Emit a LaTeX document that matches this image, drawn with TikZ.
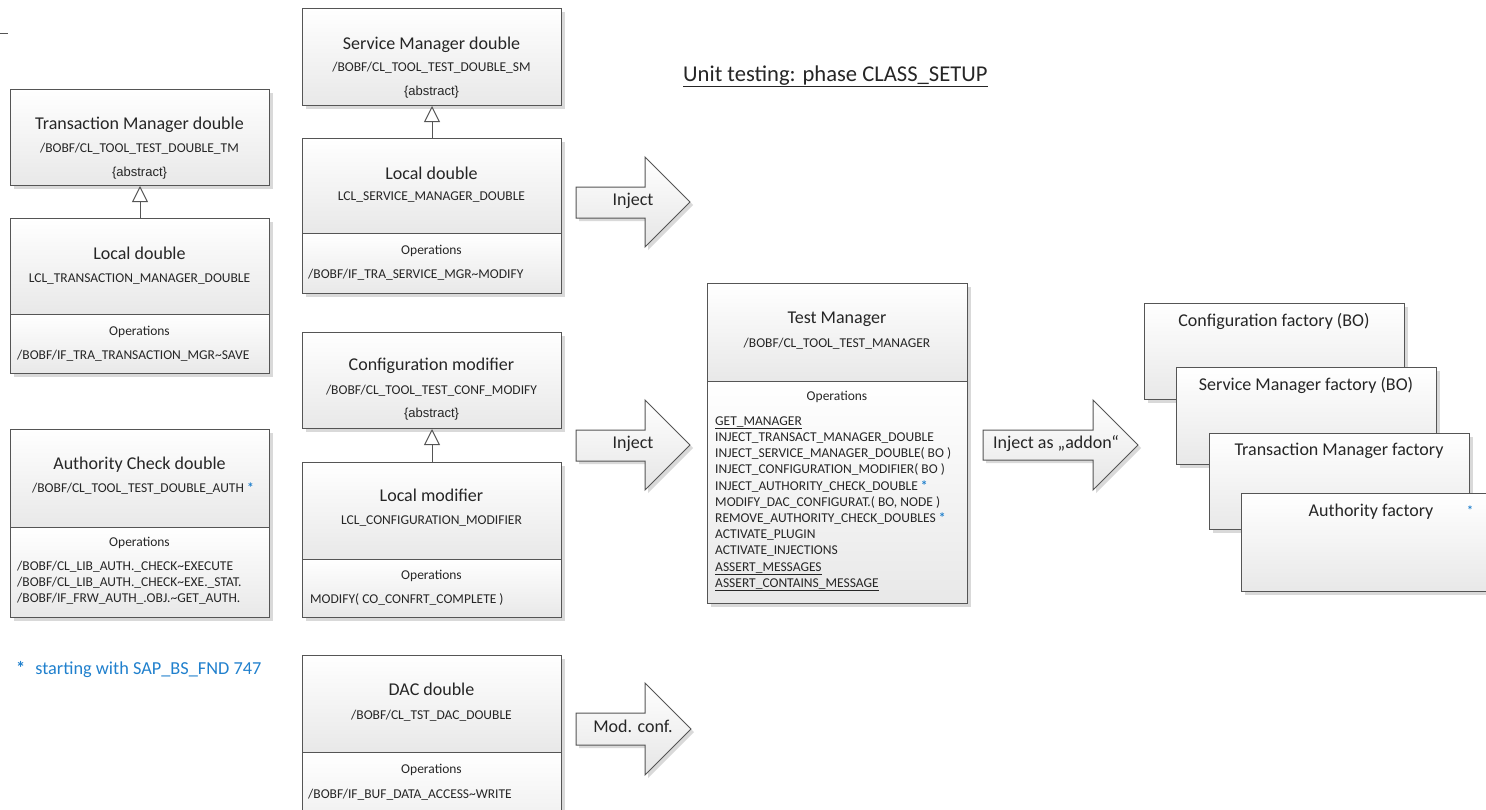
\documentclass[tikz,border=0pt]{standalone}
\usepackage{fontspec}
\setmainfont{Carlito}
\newfontfamily\arialfont{Liberation Sans}
\usetikzlibrary{arrows.meta,shadows}
\definecolor{edge}{RGB}{85,85,85}
\definecolor{ink}{RGB}{38,38,38}
\definecolor{starblue}{RGB}{32,128,205}
\tikzset{
  softshadow/.style={drop shadow={shadow xshift=3pt, shadow yshift=-3pt, fill=black!15, opacity=1}},
  part/.style={draw=edge, line width=1pt, top color=white, bottom color=black!9,
    inner sep=0pt, anchor=north west, minimum width=259pt, softshadow},
  txt/.style={inner sep=0pt, text=ink, text height=0.64em, text depth=0pt},
  big/.style={txt, font=\fontsize{18}{21}\selectfont},
  small/.style={txt, font=\fontsize{13.5}{16}\selectfont},
  abs/.style={txt, font=\arialfont\fontsize{13}{15}\selectfont},
  op/.style={small, anchor=west},
  inherit/.style={draw=edge, line width=1pt,
    -{Triangle[open, length=16pt, width=16pt, line width=1pt]}},
  block/.style={draw=edge, line width=1pt, line join=miter,
    top color=white, bottom color=black!10, softshadow},
}
\newcommand{\bluestar}{\textcolor{starblue}{\textbf{*}}}
\begin{document}
\begin{tikzpicture}[x=1pt, y=-1pt]
\useasboundingbox (0,0) rectangle (1486,809);
\clip (0,0) rectangle (1486,809);

% stray rule at the upper left
\coordinate (rs) at (0,33);
\coordinate (re) at (8,33);
\draw[edge, line width=1pt] (rs) -- (re);

% title
\node[txt, font=\fontsize{22.6}{26}\selectfont, anchor=west] (title) at (683,78)
  {\underline{Unit testing: phase CLASS\_SETUP}};

% ---------- transaction manager double ----------
\node[part, minimum height=96pt] (tmh) at (10,89) {};
\node[big]   (tmh-a) at (139.5,126) {Transaction Manager double};
\node[small] (tmh-b) at (139.5,149) {/BOBF/CL\_TOOL\_TEST\_DOUBLE\_TM};
\node[abs]   (tmh-c) at (139.5,173) {\{abstract\}};

\node[part, minimum height=96pt] (tlh) at (10,218) {};
\node[big]   (tlh-a) at (139.5,256) {Local double};
\node[small] (tlh-b) at (139.5,279) {LCL\_TRANSACTION\_MANAGER\_DOUBLE};
\node[part, minimum height=59pt] (tlo) at (10,314) {};
\node[small] (tlo-a) at (139.5,332) {Operations};
\node[op]    (tlo-b) at (17,356) {/BOBF/IF\_TRA\_TRANSACTION\_MGR\textasciitilde SAVE};
\draw[inherit] (tlh.north) -- (tmh.south);

% ---------- authority check double ----------
\node[part, minimum height=98pt] (ach) at (10,429) {};
\node[big]   (ach-a) at (139.5,466) {Authority Check double};
\node[small] (ach-b) at (143,489) {/BOBF/CL\_TOOL\_TEST\_DOUBLE\_AUTH \bluestar};
\node[part, minimum height=90pt] (aco) at (10,527) {};
\node[small] (aco-a) at (139.5,543) {Operations};
\node[op]    (aco-b) at (17,567) {/BOBF/CL\_LIB\_AUTH.\_CHECK\textasciitilde EXECUTE};
\node[op]    (aco-c) at (17,583) {/BOBF/CL\_LIB\_AUTH.\_CHECK\textasciitilde EXE.\_STAT.};
\node[op]    (aco-d) at (17,599) {/BOBF/IF\_FRW\_AUTH\_.OBJ.\textasciitilde GET\_AUTH.};

\node[txt, font=\fontsize{18.3}{21}\selectfont, text=starblue, anchor=west] (note) at (16,671)
  {\textbf{*}\hspace{10pt}starting with SAP\_BS\_FND 747};

% ---------- service manager double ----------
\node[part, minimum height=97pt] (smh) at (302,8) {};
\node[big]   (smh-a) at (431.5,46) {Service Manager double};
\node[small] (smh-b) at (431.5,68) {/BOBF/CL\_TOOL\_TEST\_DOUBLE\_SM};
\node[abs]   (smh-c) at (431.5,92) {\{abstract\}};

\node[part, minimum height=95pt] (slh) at (302,138) {};
\node[big]   (slh-a) at (431.5,176) {Local double};
\node[small] (slh-b) at (431.5,197) {LCL\_SERVICE\_MANAGER\_DOUBLE};
\node[part, minimum height=60pt] (slo) at (302,233) {};
\node[small] (slo-a) at (431.5,251) {Operations};
\node[op]    (slo-b) at (308,275) {/BOBF/IF\_TRA\_SERVICE\_MGR\textasciitilde MODIFY};
\draw[inherit] (slh.north) -- (smh.south);

% ---------- configuration modifier ----------
\node[part, minimum height=96pt] (cmh) at (302,332) {};
\node[big]   (cmh-a) at (431.5,367) {Configuration modifier};
\node[small] (cmh-b) at (431.5,391) {/BOBF/CL\_TOOL\_TEST\_CONF\_MODIFY};
\node[abs]   (cmh-c) at (431.5,414) {\{abstract\}};

\node[part, minimum height=97pt] (clh) at (302,462) {};
\node[big]   (clh-a) at (431.5,498) {Local modifier};
\node[small] (clh-b) at (431.5,521) {LCL\_CONFIGURATION\_MODIFIER};
\node[part, minimum height=58pt] (clo) at (302,559) {};
\node[small] (clo-a) at (431.5,576) {Operations};
\node[op]    (clo-b) at (310,600) {MODIFY( CO\_CONFRT\_COMPLETE )};
\draw[inherit] (clh.north) -- (cmh.south);

% ---------- DAC double ----------
\node[part, minimum height=97pt] (dah) at (302,655) {};
\node[big]   (dah-a) at (431.5,692) {DAC double};
\node[small] (dah-b) at (431.5,716) {/BOBF/CL\_TST\_DAC\_DOUBLE};
\node[part, minimum height=100pt] (dao) at (302,752) {};
\node[small] (dao-a) at (431.5,770) {Operations};
\node[op]    (dao-b) at (308,795) {/BOBF/IF\_BUF\_DATA\_ACCESS\textasciitilde WRITE};

% ---------- block arrows ----------
\path[block] (576,187) -- (645,187) -- (645,157) -- (690,202) -- (645,247)
  -- (645,218) -- (576,218) -- cycle;
\node[big] (inj1) at (633,202) {Inject};

\path[block] (576,430) -- (645,430) -- (645,400) -- (690,445) -- (645,490)
  -- (645,461) -- (576,461) -- cycle;
\node[big] (inj2) at (633,445) {Inject};

\path[block] (576,713) -- (645,713) -- (645,683) -- (691,729) -- (645,775)
  -- (645,745) -- (576,745) -- cycle;
\node[big] (mod) at (633,729) {Mod. conf.};

\path[block] (983,430) -- (1093,430) -- (1093,400) -- (1138,445) -- (1093,490)
  -- (1093,460) -- (983,460) -- cycle;
\node[big] (addon) at (1056,445) {Inject as „addon“};

% ---------- test manager ----------
\node[part, minimum width=260pt, minimum height=98pt] (tmg) at (707,283) {};
\node[big]   (tmg-a) at (837,320) {Test Manager};
\node[small] (tmg-b) at (837,344) {/BOBF/CL\_TOOL\_TEST\_MANAGER};
\node[part, minimum width=260pt, minimum height=222pt] (tmo) at (707,381) {};
\node[small] (tmo-a) at (837,397) {Operations};
\foreach \t [count=\i from 0] in {
  {\underline{GET\_MANAGER}},
  {INJECT\_TRANSACT\_MANAGER\_DOUBLE},
  {INJECT\_SERVICE\_MANAGER\_DOUBLE( BO )},
  {INJECT\_CONFIGURATION\_MODIFIER( BO )},
  {INJECT\_AUTHORITY\_CHECK\_DOUBLE \bluestar},
  {MODIFY\_DAC\_CONFIGURAT.( BO, NODE )},
  {REMOVE\_AUTHORITY\_CHECK\_DOUBLES \bluestar},
  {ACTIVATE\_PLUGIN},
  {ACTIVATE\_INJECTIONS},
  {\underline{ASSERT\_MESSAGES}},
  {\underline{ASSERT\_CONTAINS\_MESSAGE}}}
  \node[op] (tmo-\i) at (715,422+16.2*\i) {\t};

% ---------- factories ----------
\node[part, minimum width=260pt, minimum height=96pt] (cf) at (1144,303) {};
\node[big] (cf-a) at (1274,323) {Configuration factory (BO)};
\node[part, minimum width=260pt, minimum height=97pt] (smf) at (1176,367) {};
\node[big] (smf-a) at (1306,387) {Service Manager factory (BO)};
\node[part, minimum width=260pt, minimum height=96pt] (tmf) at (1209,433) {};
\node[big] (tmf-a) at (1339,452) {Transaction Manager factory};
\node[part, minimum width=260pt, minimum height=98pt] (af) at (1241,493) {};
\node[big] (af-a) at (1371,513) {Authority factory};
\node[txt, font=\fontsize{12}{14}\selectfont\bfseries, text=starblue] (af-s) at (1470,511) {*};
\end{tikzpicture}
\end{document}
